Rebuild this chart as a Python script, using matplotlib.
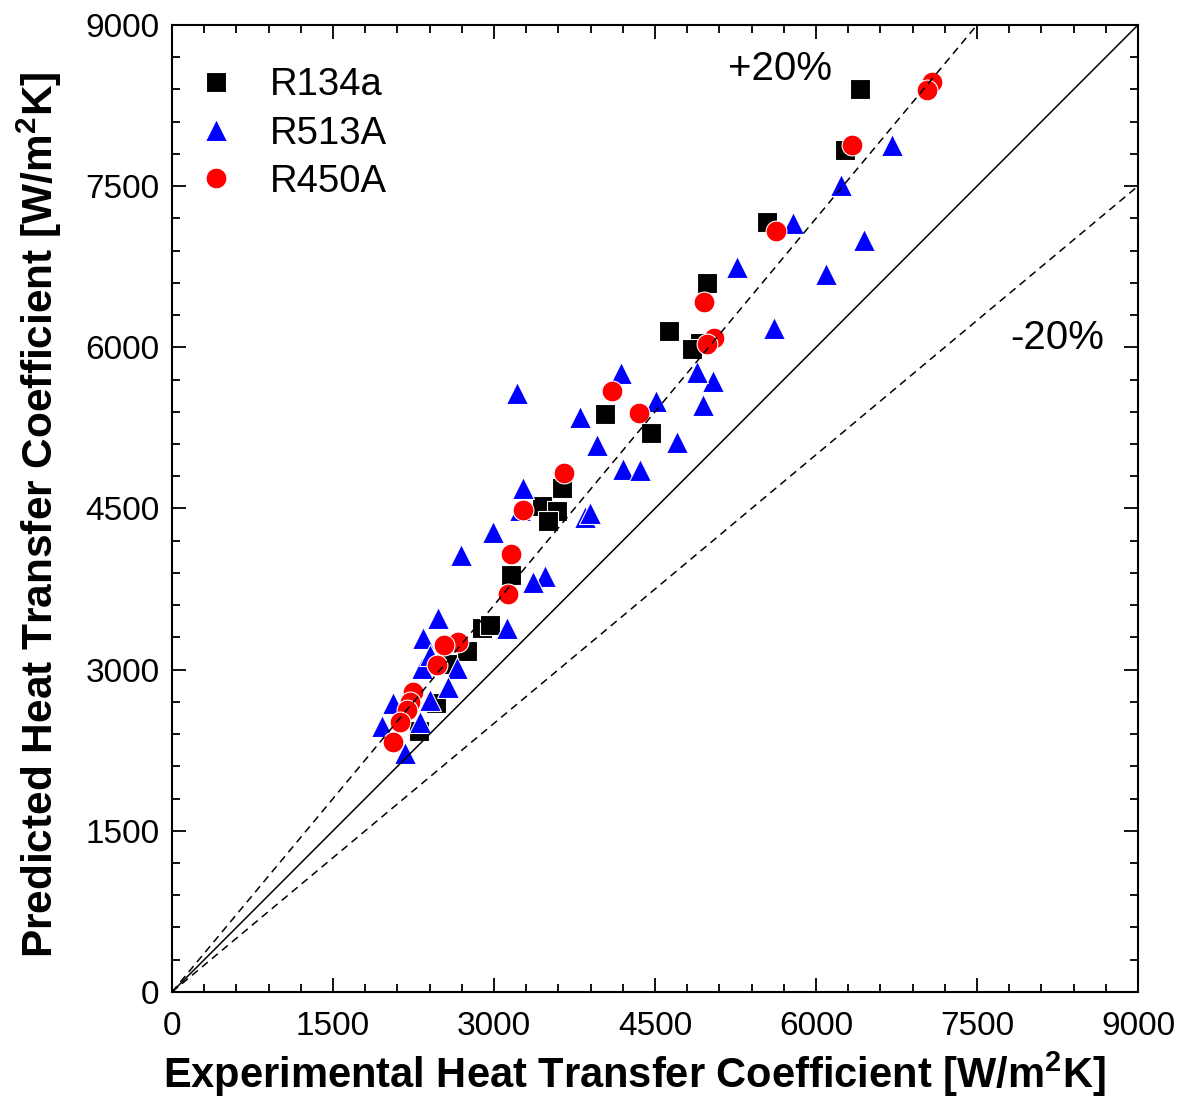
import numpy as np
import matplotlib
matplotlib.use("Agg")
import matplotlib.pyplot as plt
from matplotlib.ticker import MultipleLocator

plt.rcParams['font.family'] = ['Liberation Sans', 'DejaVu Sans']
plt.rcParams['mathtext.fontset'] = 'custom'
plt.rcParams['mathtext.rm'] = 'Liberation Sans'
plt.rcParams['mathtext.bf'] = 'Liberation Sans:bold'

# Experimental vs predicted heat transfer coefficient [W/m2K]
r134a_exp = [6410, 6270, 5545, 4985, 4630, 4920, 4845, 4035, 4465,
             3635, 3450, 3590, 3505, 3160, 2890, 2960, 2750, 2560, 2460, 2300]
r134a_pred = [8400, 7840, 7170, 6600, 6150, 6040, 5985, 5380, 5200,
              4690, 4525, 4475, 4385, 3880, 3390, 3415, 3175, 3050, 2690, 2430]

r513a_exp = [6710, 6235, 6450, 5785, 6095, 5265, 5610, 5040, 4890, 4950,
             4510, 4705, 4185, 3800, 3960, 4200, 4360, 3215, 3270, 3850,
             3895, 2990, 2695, 2480, 3475, 3365, 3120, 2340, 2330, 2655,
             2570, 2405, 2060, 2310, 1955, 2170, 2400, 3240]
r513a_pred = [7880, 7510, 7000, 7160, 6680, 6750, 6180, 5690, 5770, 5465,
              5500, 5120, 5760, 5350, 5090, 4870, 4860, 5575, 4690, 4420,
              4460, 4280, 4070, 3480, 3870, 3815, 3390, 3295, 3015, 3015,
              2840, 2720, 2690, 2515, 2475, 2225, 3140, 4490]

r450a_exp = [7080, 7035, 6335, 5630, 4955, 5050, 4985, 4100, 4350, 3650,
             3270, 3160, 3130, 2665, 2535, 2470, 2245, 2220, 2190, 2125, 2060]
r450a_pred = [8470, 8395, 7885, 7085, 6420, 6085, 6030, 5595, 5390, 4830,
              4485, 4075, 3705, 3255, 3230, 3045, 2790, 2700, 2625, 2515, 2325]

fig = plt.figure(figsize=(11.8, 10.99), dpi=100)
ax = fig.add_axes([0.1458, 0.0974, 0.8186, 0.8799])

kw = dict(linestyle='none', markeredgecolor='white', markeredgewidth=0.8)
ax.plot(r134a_exp, r134a_pred, 's', color='black', markersize=15,
        label='R134a', zorder=3, **kw)
ax.plot(r513a_exp, r513a_pred, '^', color='blue', markersize=16.5,
        label='R513A', zorder=4, **kw)
ax.plot(r450a_exp, r450a_pred, 'o', color='red', markersize=15,
        label='R450A', zorder=5, **kw)

# Perfect agreement and +/-20% bands
xl = np.array([0, 9000])
ax.plot(xl, xl, '-', color='black', lw=1.1, zorder=6)
ax.plot([0, 7500], [0, 9000], '--', color='black', lw=1.1,
        dashes=(5, 3.5), zorder=6)
ax.plot([0, 9000], [0, 7500], '--', color='black', lw=1.1,
        dashes=(5, 3.5), zorder=6)

ax.text(5665, 8590, '+20%', fontsize=29, ha='center', va='center')
ax.text(8245, 6090, '-20%', fontsize=29, ha='center', va='center')

ax.set_xlim(0, 9000)
ax.set_ylim(0, 9000)
ax.xaxis.set_major_locator(MultipleLocator(1500))
ax.yaxis.set_major_locator(MultipleLocator(1500))
ax.xaxis.set_minor_locator(MultipleLocator(300))
ax.yaxis.set_minor_locator(MultipleLocator(300))
ax.tick_params(which='both', direction='in', top=True, right=True,
               labelsize=24, width=1.3)
ax.tick_params(which='major', length=10)
ax.tick_params(which='minor', length=6)
ax.tick_params(axis='x', which='major', pad=14)
ax.tick_params(axis='y', which='major', pad=9)
for s in ax.spines.values():
    s.set_linewidth(1.5)

ax.set_xlabel(r'Experimental Heat Transfer Coefficient [W/m$^\mathbf{2}$K]',
              fontsize=30, fontweight='bold', labelpad=5)
ax.set_ylabel(r'Predicted Heat Transfer Coefficient [W/m$^\mathbf{2}$K]',
              fontsize=30.5, fontweight='bold', labelpad=15)
ax.xaxis.label.set_x(0.479)
ax.yaxis.label.set_y(0.493)

leg = ax.legend(loc='upper left', bbox_to_anchor=(0.0, 0.972), frameon=False,
                fontsize=27.5, handletextpad=0.67, labelspacing=0.32,
                borderaxespad=0.0, handlelength=1.5)

fig.savefig('out.png', dpi=100)
